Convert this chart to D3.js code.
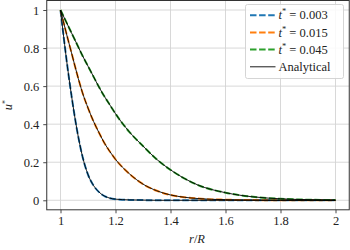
<!DOCTYPE html>
<html>
<head>
<meta charset="utf-8">
<script src="https://cdn.jsdelivr.net/npm/d3@7"></script>
<style>
  html, body { margin: 0; padding: 0; background: #fff; }
  svg { display: block; }
</style>
</head>
<body>
<svg id="chart" width="350" height="250"></svg>
<script>
// ---- data ----
const rValues = [1, 1.02, 1.04, 1.06, 1.08, 1.1, 1.12, 1.14, 1.16, 1.18, 1.2, 1.25, 1.3, 1.35, 1.4, 1.45, 1.5, 1.6, 1.7, 1.8, 1.9, 2.0];
const u003 = [1, 0.76, 0.55, 0.37, 0.23, 0.135, 0.078, 0.043, 0.022, 0.011, 0.006, 0.002, 0.001, 0, 0, 0, 0, 0, 0, 0, 0, 0];
const u015 = [1, 0.885, 0.775, 0.665, 0.565, 0.485, 0.415, 0.355, 0.30, 0.255, 0.215, 0.14, 0.085, 0.05, 0.028, 0.016, 0.009, 0.003, 0.001, 0, 0, 0];
const u045 = [1, 0.94, 0.88, 0.82, 0.76, 0.705, 0.65, 0.595, 0.545, 0.50, 0.455, 0.36, 0.285, 0.215, 0.16, 0.115, 0.08, 0.04, 0.018, 0.008, 0.003, 0.001];
const seriesLabels = ["0.003", "0.015", "0.045"];
const seriesColors = ["#1f77b4", "#ff7f0e", "#2ca02c"];
const xTicks = [1, 1.2, 1.4, 1.6, 1.8, 2];
const yTicks = [0, 0.2, 0.4, 0.6, 0.8, 1];

const series = [u003, u015, u045];
const FONT = "'Liberation Serif', 'Times New Roman', 'DejaVu Serif', serif";
const FS = 12.5;

// ---- layout ----
const svg = d3.select("#chart");
const L = 46.75, R = 349.25, T = 0.5, B = 209.8;

const x = d3.scaleLinear().domain([0.95, 2.05]).range([L, R]);
const y = d3.scaleLinear().domain([-0.05, 1.05]).range([B, T]);

// grid
const grid = svg.append("g");
grid.selectAll("line.gx").data(xTicks).enter().append("line")
  .attr("x1", d => x(d)).attr("x2", d => x(d)).attr("y1", T).attr("y2", B)
  .attr("stroke", "#d4d4d4").attr("stroke-width", 0.9);
grid.selectAll("line.gy").data(yTicks).enter().append("line")
  .attr("y1", d => y(d)).attr("y2", d => y(d)).attr("x1", L).attr("x2", R)
  .attr("stroke", "#d4d4d4").attr("stroke-width", 0.9);

// clip
svg.append("clipPath").attr("id", "clip").append("rect")
  .attr("x", L).attr("y", T).attr("width", R - L).attr("height", B - T);

const line = d3.line().x(d => x(d[0])).y(d => y(d[1])).curve(d3.curveMonotoneX);
const plot = svg.append("g").attr("clip-path", "url(#clip)");

series.forEach((s, i) => {
  plot.append("path")
    .datum(rValues.map((r, k) => [r, s[k]]))
    .attr("d", line)
    .attr("fill", "none")
    .attr("stroke", seriesColors[i])
    .attr("stroke-width", 2)
    .attr("stroke-dasharray", "6.5,2.6");
});
series.forEach((s, i) => {
  plot.append("path")
    .datum(rValues.map((r, k) => [r, s[k]]))
    .attr("d", line)
    .attr("fill", "none")
    .attr("stroke", "#000")
    .attr("stroke-width", 0.9);
});

// axes
const xAxis = d3.axisBottom(x).tickValues(xTicks).tickFormat(d3.format("~g")).tickSize(3.5).tickPadding(3);
const yAxis = d3.axisLeft(y).tickValues(yTicks).tickFormat(d3.format("~g")).tickSize(3.5).tickPadding(4);

const gx = svg.append("g").attr("transform", `translate(0,${B})`).call(xAxis);
const gy = svg.append("g").attr("transform", `translate(${L},0)`).call(yAxis);
[gx, gy].forEach(g => {
  g.attr("font-family", null).attr("font-size", null);
  g.select(".domain").remove();
  g.selectAll(".tick line").attr("stroke", "#333").attr("stroke-width", 0.9);
  g.selectAll(".tick text").style("font-family", FONT).style("font-size", FS + "px").attr("fill", "#222");
});

// frame
svg.append("rect").attr("x", L).attr("y", T).attr("width", R - L).attr("height", B - T)
  .attr("fill", "none").attr("stroke", "#333").attr("stroke-width", 1);

// axis labels
const xl = svg.append("text").attr("x", (L + R) / 2 - 1).attr("y", 243)
  .attr("text-anchor", "middle").style("font-family", FONT).style("font-size", FS + "px").attr("fill", "#222");
xl.append("tspan").attr("font-style", "italic").text("r");
xl.append("tspan").text("/");
xl.append("tspan").attr("font-style", "italic").text("R");

const yl = svg.append("text").attr("transform", `translate(12,${(T + B) / 2}) rotate(-90)`)
  .attr("text-anchor", "middle").style("font-family", FONT).style("font-size", FS + "px").attr("fill", "#222");
yl.append("tspan").attr("font-style", "italic").text("u");
yl.append("tspan").style("font-size", "8px").attr("dy", -4).text("*");

// legend
const lg = svg.append("g");
lg.append("rect").attr("x", 245.5).attr("y", 4.5).attr("width", 98).attr("height", 74)
  .attr("rx", 2).attr("fill", "#fff").attr("fill-opacity", 0.85)
  .attr("stroke", "#d0d0d0").attr("stroke-width", 0.9);
const rowY = [15.2, 32.4, 49.6, 66.8];
seriesLabels.forEach((lab, i) => {
  lg.append("line").attr("x1", 250).attr("x2", 275.5).attr("y1", rowY[i]).attr("y2", rowY[i])
    .attr("stroke", seriesColors[i]).attr("stroke-width", 2).attr("stroke-dasharray", "6.5,2.6");
  const t = lg.append("text").attr("x", 278.5).attr("y", rowY[i] + 4.2)
    .style("font-family", FONT).style("font-size", FS + "px").attr("fill", "#222");
  t.append("tspan").attr("font-style", "italic").text("t");
  t.append("tspan").style("font-size", "8.5px").attr("dy", -5).text("*");
  t.append("tspan").attr("dy", 5).text(" = " + lab);
});
lg.append("line").attr("x1", 250).attr("x2", 275.5).attr("y1", rowY[3]).attr("y2", rowY[3])
  .attr("stroke", "#000").attr("stroke-width", 0.9);
lg.append("text").attr("x", 278.5).attr("y", rowY[3] + 4.2)
  .style("font-family", FONT).style("font-size", FS + "px").attr("fill", "#222").text("Analytical");
</script>
</body>
</html>
